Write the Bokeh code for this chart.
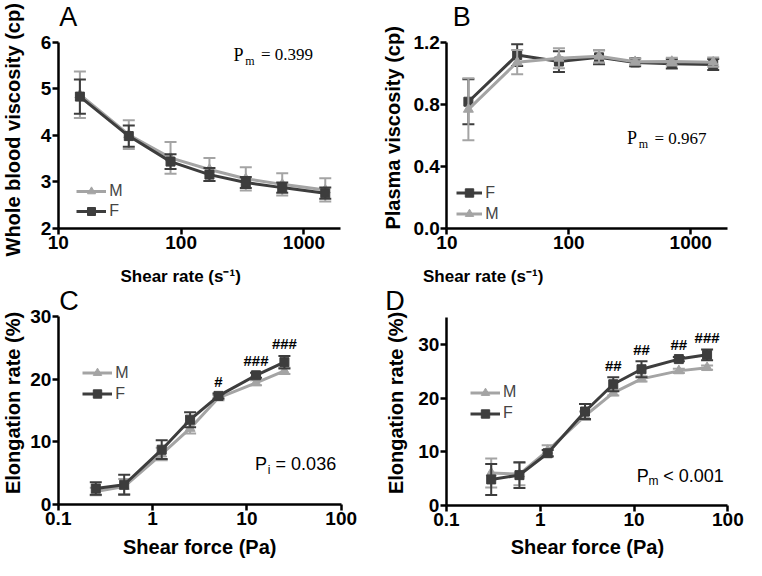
import math
from bokeh.plotting import figure
from bokeh.models import (Range1d, FixedTicker, CustomJSTickFormatter, Label,
                          Legend, LegendItem)
from bokeh.layouts import column, row
from bokeh.embed import file_html
from bokeh.resources import INLINE
from bokeh.core.properties import value

# ---------------- data ----------------
# Panel A: whole blood viscosity vs shear rate
shear_rate_A = [15, 37.5, 82, 170, 336, 665, 1490]
wb_M = [4.87, 4.01, 3.51, 3.26, 3.06, 2.94, 2.82]
wb_M_err = [0.50, 0.31, 0.34, 0.25, 0.25, 0.24, 0.25]
wb_F = [4.83, 3.98, 3.43, 3.15, 2.98, 2.87, 2.75]
wb_F_err = [0.37, 0.23, 0.16, 0.14, 0.12, 0.11, 0.12]

# Panel B: plasma viscosity vs shear rate
shear_rate_B = [15, 37.7, 83, 177, 350, 700, 1530]
pl_F = [0.817, 1.118, 1.076, 1.103, 1.070, 1.061, 1.057]
pl_F_err = [0.145, 0.070, 0.067, 0.045, 0.025, 0.030, 0.035]
pl_M = [0.768, 1.072, 1.097, 1.110, 1.075, 1.076, 1.072]
pl_M_err = [0.200, 0.078, 0.064, 0.040, 0.020, 0.025, 0.030]

# Panel C: elongation rate vs shear force
shear_force_C = [0.25, 0.5, 1.25, 2.5, 5, 12.5, 25]
el_C_F = [2.5, 3.1, 8.7, 13.5, 17.3, 20.6, 22.7]
el_C_F_err = [1.0, 1.6, 1.5, 1.2, 0.4, 0.4, 1.0]
el_C_M = [2.0, 2.8, 8.0, 12.1, 17.0, 19.4, 21.3]
el_C_M_err = [0.6, 1.2, 1.0, 0.8, 0.4, 0.4, 0.5]
sig_C = ["", "", "", "", "#", "###", "###"]

# Panel D: elongation rate vs shear force
shear_force_D = [0.3, 0.6, 1.2, 3, 6, 12, 30, 60]
el_D_F = [4.8, 5.6, 9.7, 17.5, 22.6, 25.4, 27.3, 28.1]
el_D_F_err = [2.9, 2.4, 0.6, 1.4, 1.3, 1.5, 0.4, 1.0]
el_D_M = [6.0, 5.8, 10.2, 16.7, 21.0, 23.6, 25.1, 25.7]
el_D_M_err = [2.7, 2.1, 1.0, 0.8, 0.5, 0.5, 0.4, 0.4]
sig_D = ["", "", "", "", "##", "##", "##", "###"]

ticks_rate = [10, 100, 1000]
ticks_force = [0.1, 1, 10, 100]
ticks_A = [2, 3, 4, 5, 6]
ticks_B = [0.0, 0.4, 0.8, 1.2]
ticks_CD = [0, 10, 20, 30]

# ---------------- layout / style ----------------
DARK = "#3d3d3d"
LIGHT = "#a4a4a4"
SANS = "Liberation Sans"
SERIF = "Liberation Serif"
BASE_FIX = 0.347  # em shift between rendered anchor and alphabetic baseline

SX = 746 / 762
SY = 560 / 576


def X(rx):
    return rx * SX


def Y(ry):
    return ry * SY


class Panel:
    def __init__(self, ox, oy, w, h):
        self.ox, self.oy, self.w, self.h = ox, oy, w, h

    def fx(self, rx):  # reference x -> frame-relative x
        return X(rx) - self.ox

    def fy(self, ry):  # reference y -> frame-relative y (from bottom)
        return (self.oy + self.h) - Y(ry)


def make_fig(g, xcal, ycal, xbounds, ybounds, xticks, yticks, yfmt):
    (d0, rx0), (d1, rx1) = xcal
    cx0, cx1 = X(rx0) - g.ox, X(rx1) - g.ox
    k = (math.log10(d1) - math.log10(d0)) / (cx1 - cx0)
    x_start = 10 ** (math.log10(d0) - cx0 * k)
    x_end = 10 ** (math.log10(d0) + (g.w - cx0) * k)
    (v0, ry0), (v1, ry1) = ycal
    cy0, cy1 = Y(ry0) - g.oy, Y(ry1) - g.oy
    m = (v1 - v0) / (cy0 - cy1)
    y_start = v0 - (g.h - cy0) * m
    y_end = v0 + cy0 * m

    p = figure(width=g.w, height=g.h, x_axis_type="log",
               x_range=Range1d(x_start, x_end), y_range=Range1d(y_start, y_end),
               output_backend="svg", toolbar_location=None, title=None,
               min_border=0)
    p.outline_line_color = None
    p.xgrid.visible = False
    p.ygrid.visible = False
    for ax in (p.xaxis[0], p.yaxis[0]):
        ax.axis_line_width = 2.5
        ax.axis_line_color = "black"
        ax.major_tick_line_width = 2.5
        ax.major_tick_line_color = "black"
        ax.major_tick_out = 6
        ax.major_tick_in = 0
        ax.minor_tick_line_color = None
        ax.major_label_text_font = SANS
        ax.major_label_text_font_style = "bold"
        ax.major_label_text_font_size = "19px"
        ax.major_label_text_color = "black"
    p.xaxis[0].major_label_standoff = 2
    p.yaxis[0].major_label_standoff = 1
    p.xaxis[0].fixed_location = ybounds[0]
    p.yaxis[0].fixed_location = xbounds[0]
    p.xaxis[0].bounds = xbounds
    p.yaxis[0].bounds = ybounds
    p.xaxis[0].ticker = FixedTicker(ticks=xticks)
    p.xaxis[0].formatter = CustomJSTickFormatter(code="return tick.toString();")
    p.yaxis[0].ticker = FixedTicker(ticks=yticks)
    p.yaxis[0].formatter = CustomJSTickFormatter(code=yfmt)
    return p


def draw_series(p, x, y, err, color, marker, size):
    lo = [a - e for a, e in zip(y, err)]
    hi = [a + e for a, e in zip(y, err)]
    p.segment(x0=x, y0=lo, x1=x, y1=hi, line_color=color, line_width=2)
    p.scatter(x=list(x) + list(x), y=lo + hi, marker="dash", size=12,
              line_color=color, line_width=2)
    ln = p.line(x, y, line_color=color, line_width=3)
    sc = p.scatter(x, y, marker=marker, size=size, fill_color=color, line_color=color)
    return [ln, sc]


def add_label(p, g, text, rx, ry, size, font=SANS, style="normal", align="left", angle=0.0):
    x, y = g.fx(rx), g.fy(ry)
    if angle:
        x -= BASE_FIX * size
    else:
        y += BASE_FIX * size
    p.add_layout(Label(x=x, y=y, x_units="screen", y_units="screen", text=text,
                       text_font=font, text_font_size=f"{size}px", text_font_style=style,
                       text_align=align, text_baseline="alphabetic", angle=angle,
                       text_color="black"))


def add_legend(p, g, items, rleft, rbottom, gw, gh):
    leg = Legend(items=[LegendItem(label=lab, renderers=r) for lab, r in items],
                 location=(g.fx(rleft), g.fy(rbottom)), padding=0, margin=0, spacing=0,
                 glyph_width=gw, glyph_height=gh, label_height=gh, label_standoff=3,
                 label_text_font=SANS, label_text_font_size="16px",
                 background_fill_alpha=0, border_line_alpha=0)
    p.add_layout(leg)


def add_sig(p, x, y, err, labels):
    top = [a + e for a, e in zip(y, err)]
    p.text(x=x, y=top, text=labels, text_font=value(SANS), text_font_style="bold",
           text_font_size="15px", text_align="center", text_baseline="alphabetic",
           y_offset=-12, text_color="black")


INT_FMT = "return tick.toString();"
ONE_FMT = "return tick.toFixed(1);"
UP = math.pi / 2

gA = Panel(0, 0, 372, 287)
gB = Panel(372, 0, 374, 287)
gC = Panel(0, 287, 372, 273)
gD = Panel(372, 287, 374, 273)

# ---------------- Panel A ----------------
pA = make_fig(gA, ((10, 59), (1000, 310)), ((2, 234), (6, 43)), (10, 2000), (2, 6),
              ticks_rate, ticks_A, INT_FMT)
rA_M = draw_series(pA, shear_rate_A, wb_M, wb_M_err, LIGHT, "triangle", 10)
rA_F = draw_series(pA, shear_rate_A, wb_F, wb_F_err, DARK, "square", 9)
add_legend(pA, gA, [("M", rA_M), ("F", rA_F)], 78, 227, 30, 20)
add_label(pA, gA, "A", 60, 27, 27)
add_label(pA, gA, "Whole blood viscosity (cp)", 19.5, 133, 20, style="bold", align="center", angle=UP)
add_label(pA, gA, "Shear rate (s\u207b\u00b9)", 184, 290, 17, style="bold", align="center")
add_label(pA, gA, "P", 238, 62, 18, font=SERIF)
add_label(pA, gA, "m", 250, 66, 12, font=SERIF)
add_label(pA, gA, "= 0.399", 266, 62, 17, font=SERIF)

# ---------------- Panel B ----------------
pB = make_fig(gB, ((10, 456), (1000, 705)), ((0, 234.5), (1.2, 43)), (10, 2000), (0, 1.2),
              ticks_rate, ticks_B, ONE_FMT)
rB_F = draw_series(pB, shear_rate_B, pl_F, pl_F_err, DARK, "square", 9)
rB_M = draw_series(pB, shear_rate_B, pl_M, pl_M_err, LIGHT, "triangle", 10)
add_legend(pB, gB, [("F", rB_F), ("M", rB_M)], 466, 230.5, 26, 21)
add_label(pB, gB, "B", 462, 27, 27)
add_label(pB, gB, "Plasma viscosity (cp)", 408, 131, 20, style="bold", align="center", angle=UP)
add_label(pB, gB, "Shear rate (s\u207b\u00b9)", 493, 290, 17, style="bold", align="center")
add_label(pB, gB, "P", 640, 148, 18, font=SERIF)
add_label(pB, gB, "m", 652, 152, 12, font=SERIF)
add_label(pB, gB, "= 0.967", 668, 148, 17, font=SERIF)

# ---------------- Panel C ----------------
pC = make_fig(gC, ((0.1, 59), (100, 348)), ((0, 518), (30, 325)), (0.1, 100), (0, 30),
              ticks_force, ticks_CD, INT_FMT)
rC_M = draw_series(pC, shear_force_C, el_C_M, el_C_M_err, LIGHT, "triangle", 10)
rC_F = draw_series(pC, shear_force_C, el_C_F, el_C_F_err, DARK, "square", 9)
add_sig(pC, shear_force_C, el_C_F, el_C_F_err, sig_C)
add_legend(pC, gC, [("M", rC_M), ("F", rC_F)], 84, 416, 30, 21)
add_label(pC, gC, "C", 60, 319, 27)
add_label(pC, gC, "Elongation rate (%)", 19.5, 414, 20, style="bold", align="center", angle=UP)
add_label(pC, gC, "Shear force (Pa)", 203.5, 569, 20, style="bold", align="center")
add_label(pC, gC, "P", 260, 483, 18)
add_label(pC, gC, "i", 273, 487, 12)
add_label(pC, gC, "= 0.036", 281, 483, 18)

# ---------------- Panel D ----------------
pD = make_fig(gD, ((0.1, 455.5), (100, 743)), ((0, 519), (30, 354)), (0.1, 100), (0, 35),
              ticks_force, ticks_CD, INT_FMT)
rD_M = draw_series(pD, shear_force_D, el_D_M, el_D_M_err, LIGHT, "triangle", 10)
rD_F = draw_series(pD, shear_force_D, el_D_F, el_D_F_err, DARK, "square", 9)
add_sig(pD, shear_force_D, el_D_F, el_D_F_err, sig_D)
add_legend(pD, gD, [("M", rD_M), ("F", rD_F)], 480, 436, 30, 21)
add_label(pD, gD, "D", 393, 319, 27)
add_label(pD, gD, "Elongation rate (%)", 411, 414, 20, style="bold", align="center", angle=UP)
add_label(pD, gD, "Shear force (Pa)", 599.5, 569, 20, style="bold", align="center")
add_label(pD, gD, "P", 650, 495, 18)
add_label(pD, gD, "m", 662, 499, 12)
add_label(pD, gD, "< 0.001", 677, 495, 18)

layout = column(row(pA, pB), row(pC, pD))
open("out.html", "w").write(file_html(layout, INLINE))
